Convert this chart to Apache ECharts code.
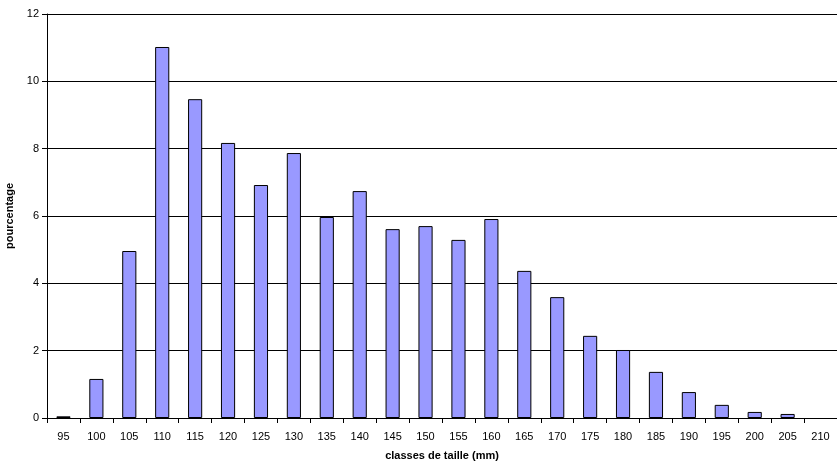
<!DOCTYPE html>
<html><head><meta charset="utf-8">
<script src="https://cdn.jsdelivr.net/npm/echarts@6/dist/echarts.min.js"></script>
<style>html,body{margin:0;padding:0;background:#fff}#c{width:837px;height:463px}</style>
</head><body><div id="c"></div>
<script>
const categories=['95','100','105','110','115','120','125','130','135','140','145','150','155','160','165','170','175','180','185','190','195','200','205','210'];
const values=[0.05,1.16,4.96,11.02,9.47,8.17,6.92,7.87,5.97,6.74,5.61,5.70,5.29,5.91,4.37,3.59,2.44,2.02,1.37,0.77,0.39,0.18,0.12,null];
const yTicks=[0,2,4,6,8,10,12];
const ch=echarts.init(document.getElementById('c'));
ch.setOption({
 animation:false,
 grid:{left:47,right:0,top:14,bottom:45,outerBoundsMode:'none'},
 xAxis:{type:'category',data:categories,name:'classes de taille (mm)',nameLocation:'middle',nameGap:32,
  nameTextStyle:{fontFamily:'Liberation Sans',fontWeight:'bold',fontSize:11,color:'#000'},
  axisLine:{lineStyle:{color:'#000'}},axisTick:{show:true,alignWithLabel:false,lineStyle:{color:'#000'}},
  axisLabel:{color:'#000',fontFamily:'Liberation Sans',fontSize:11,margin:13}},
 yAxis:{type:'value',min:yTicks[0],max:yTicks[yTicks.length-1],interval:2,name:'pourcentage',nameLocation:'middle',nameGap:28,
  nameTextStyle:{fontFamily:'Liberation Sans',fontWeight:'bold',fontSize:11,color:'#000'},
  axisLine:{show:true,lineStyle:{color:'#000'}},axisTick:{show:true,lineStyle:{color:'#000'}},
  splitLine:{lineStyle:{color:'#000',width:1}},
  axisLabel:{color:'#000',fontFamily:'Liberation Sans',fontSize:11,margin:8}},
 series:[{type:'bar',data:values,barWidth:'43%',itemStyle:{color:'#9999FF',borderColor:'#000',borderWidth:1}}]
});
</script></body></html>
